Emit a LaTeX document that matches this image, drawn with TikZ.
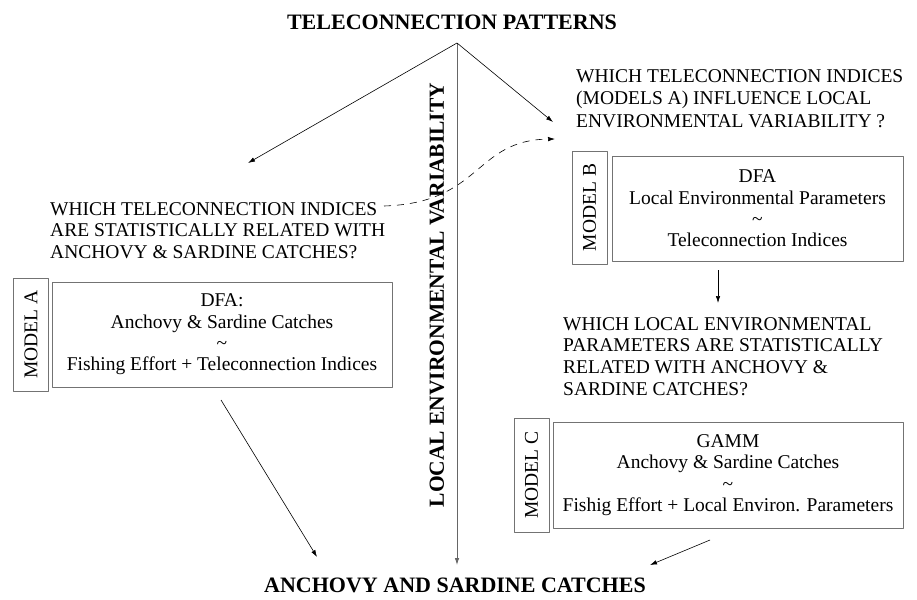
\documentclass[tikz,border=0pt]{standalone}
\usepackage{fontspec}
\setmainfont{Liberation Serif}
\usepackage{tikz}
\usetikzlibrary{arrows.meta,calc,positioning}
\usepackage{xcolor}
\definecolor{boxgray}{gray}{0.45}
\definecolor{axisgray}{gray}{0.4}

\tikzset{
  question/.style={anchor=north west,inner sep=0pt,align=left,font=\fontsize{19.5}{21.5}\selectfont},
  modelbox/.style={draw=boxgray,line width=0.9pt,inner sep=0pt,align=center,font=\fontsize{19.5}{21.3}\selectfont},
  modeltag/.style={draw=boxgray,line width=0.9pt,inner sep=0pt,rotate=90,minimum width=113pt,minimum height=35pt,font=\fontsize{19.5}{21}\selectfont},
  heading/.style={inner sep=0pt,font=\fontsize{22}{24}\selectfont\bfseries}
}

\begin{document}
\begin{tikzpicture}[x=1pt,y=-1pt,>={Latex[length=7pt,width=4.5pt]},line join=round]
  \useasboundingbox (0,0) rectangle (917,599);

  \node[heading] (patterns) at (452,22) {TELECONNECTION PATTERNS};
  \node[heading] (catches) at (455,585) {ANCHOVY AND SARDINE CATCHES};
  \node[heading,rotate=90,font=\fontsize{21.5}{24}\selectfont\bfseries] (localenv) at (437,295) {LOCAL ENVIRONMENTAL VARIABILITY};

  \coordinate (apex) at (457,43);
  \coordinate (envend) at (457,565);
  \coordinate (leftend) at (248,163);
  \coordinate (rightend) at (553,122);
  \coordinate (dashS) at (384,206);
  \coordinate (dashE) at (555,139);

  % questions
  \node[question] (qA) at (50,202) {WHICH TELECONNECTION INDICES\\ARE STATISTICALLY RELATED WITH\\ANCHOVY \& SARDINE CATCHES?};
  \node[question,font=\fontsize{19.5}{22.5}\selectfont] (qB) at (576,69) {WHICH TELECONNECTION INDICES\\(MODELS A) INFLUENCE LOCAL\\ENVIRONMENTAL VARIABILITY ?};
  \node[question,font=\fontsize{19.5}{21.8}\selectfont] (qC) at (563,317) {WHICH LOCAL ENVIRONMENTAL\\PARAMETERS ARE STATISTICALLY\\RELATED WITH ANCHOVY \&\\SARDINE CATCHES?};

  % models
  \node[modelbox,minimum width=340pt,minimum height=105pt] (mA) at (222,334.5) {DFA:\\Anchovy \& Sardine Catches\\\textasciitilde\\Fishing Effort + Teleconnection Indices};
  \node[modeltag] (tagA) at (31,334.5) {MODEL A};
  \node[modelbox,minimum width=291pt,minimum height=105pt] (mB) at (757.5,208.5) {DFA\\Local Environmental Parameters\\\textasciitilde\\Teleconnection Indices};
  \node[modeltag] (tagB) at (589.5,207.5) {MODEL B};
  \node[modelbox,minimum width=350pt,minimum height=106pt] (mC) at (728,475) {GAMM\\Anchovy \& Sardine Catches\\\textasciitilde\\Fishig Effort + Local Environ. Parameters};
  \node[modeltag,minimum width=114pt] (tagC) at (531.5,475) {MODEL C};

  \coordinate (aS) at (221,400);
  \coordinate (aE) at (317,557);
  \coordinate (bS) at (718,270);
  \coordinate (bE) at (718,303);
  \coordinate (cS) at (710,540);
  \coordinate (cE) at (650,565);

  \draw[->,axisgray,line width=0.8pt] (apex)--(envend);
  \draw[->,line width=0.6pt] (apex)--(leftend);
  \draw[->,line width=0.6pt] (apex)--(rightend);
  \draw[->,line width=0.6pt,dash pattern=on 7pt off 6pt] (dashS) .. controls (482,203) and (474,140) .. (dashE);
  \draw[->,line width=0.6pt] (aS)--(aE);
  \draw[->,line width=0.6pt] (bS)--(bE);
  \draw[->,line width=0.6pt] (cS)--(cE);
\end{tikzpicture}
\end{document}
